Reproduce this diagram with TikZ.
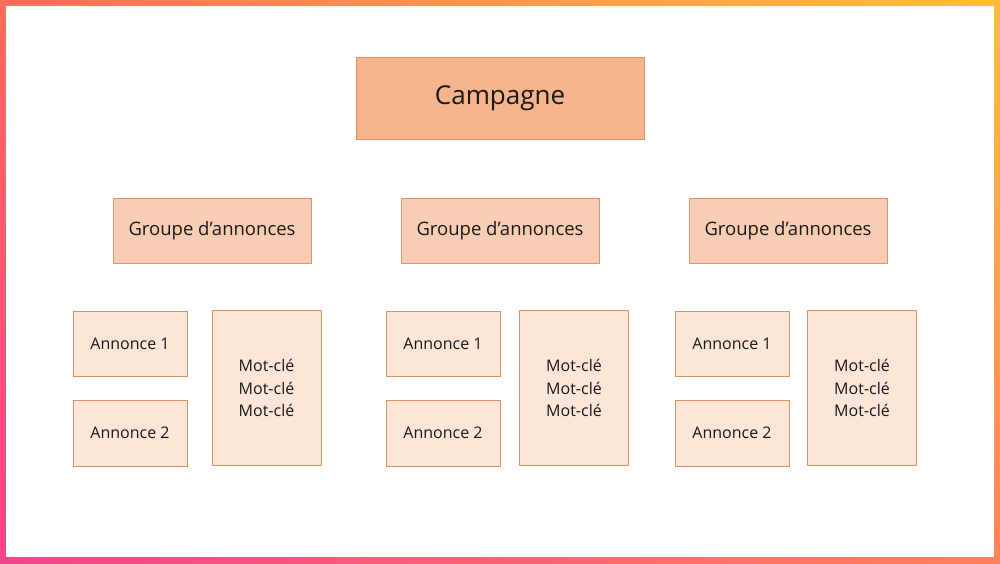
\documentclass[tikz,border=0pt]{standalone}
\usepackage{fontspec}
\setmainfont{Open Sans}
\usetikzlibrary{shadings}
\begin{document}
\begin{tikzpicture}[x=1pt,y=-1pt,
  box/.style={draw=bd,line width=0.9pt,inner sep=0pt,align=center,text=black!90},
]
\definecolor{bd}{HTML}{DE9462}
\definecolor{c1}{HTML}{F5B48C}
\definecolor{c2}{HTML}{F9CDB3}
\definecolor{c3}{HTML}{FDE5D8}
\definecolor{ul}{RGB}{255,110,90}
\definecolor{ur}{RGB}{255,190,60}
\definecolor{ll}{RGB}{240,70,140}
\definecolor{lr}{RGB}{255,130,90}
\useasboundingbox (0,0) rectangle (1000,563);
\shade[upper left=ul,upper right=ur,lower left=ll,lower right=lr]
  (0,0) rectangle (1000,563);
\fill[white] (6,6) rectangle (994,557);
\node[box,fill=c1,minimum width=288,minimum height=82,font=\fontsize{26}{30}\selectfont] (camp) at (500,98) {\raisebox{-3pt}{Campagne}};
\foreach \cx/\n in {212/a,500/b,788/c}{
  \node[box,fill=c2,minimum width=198,minimum height=65,font=\fontsize{18.5}{22}\selectfont] (g\n) at (\cx,231) {\raisebox{-2pt}{Groupe d’annonces}};
}
\foreach \ax/\mx/\n in {130/266.5/a,443/574/b,732/862/c}{
  \node[box,fill=c3,minimum width=114,minimum height=65,font=\fontsize{16}{19}\selectfont] (a1\n) at (\ax,344) {\raisebox{-1pt}{Annonce 1}};
  \node[box,fill=c3,minimum width=114,minimum height=66,font=\fontsize{16}{19}\selectfont] (a2\n) at (\ax,433) {\raisebox{-1pt}{Annonce 2}};
  \node[box,fill=c3,minimum width=109,minimum height=155,font=\fontsize{16}{22.5}\selectfont] (m\n) at (\mx,388) {Mot-clé\\Mot-clé\\Mot-clé};
}
\end{tikzpicture}
\end{document}
